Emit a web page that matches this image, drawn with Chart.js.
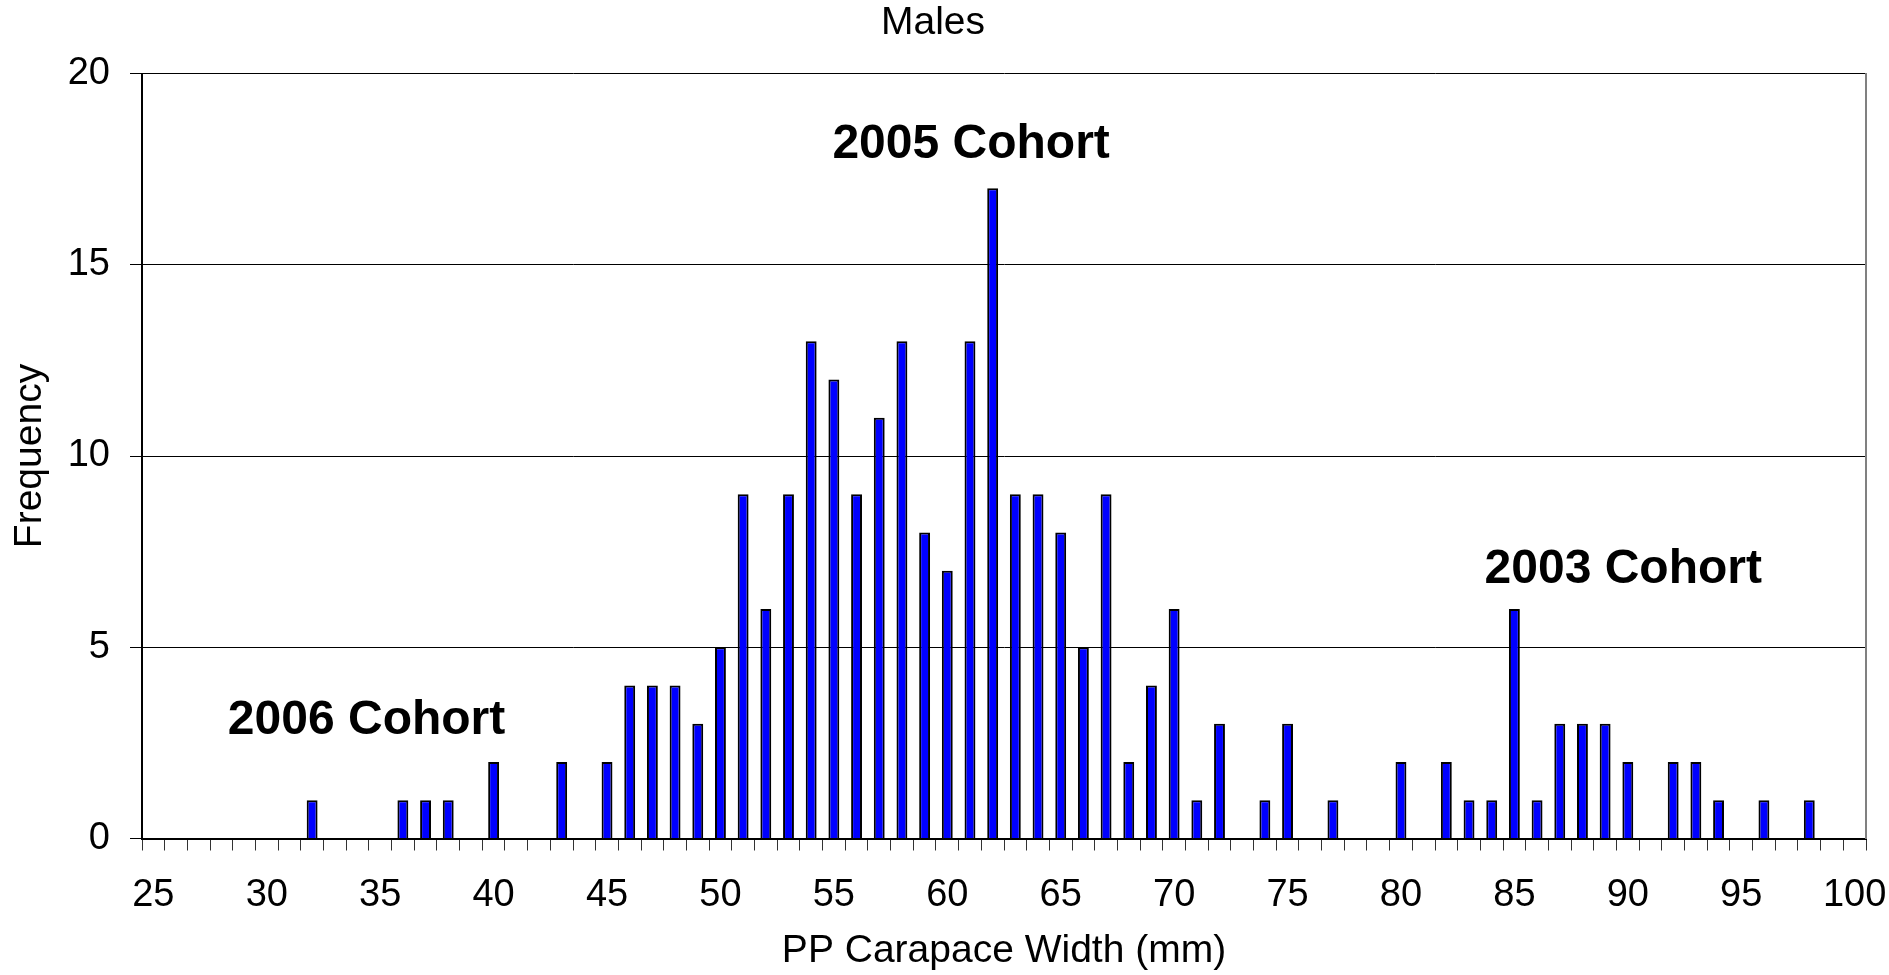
<!DOCTYPE html>
<html>
<head>
<meta charset="utf-8">
<title>Males</title>
<script src="https://cdn.jsdelivr.net/npm/chart.js@4.4.1/dist/chart.umd.min.js"></script>
<style>
  html, body { margin: 0; background: #fff; }
  #wrap { width: 1889px; height: 975px; }
</style>
</head>
<body>
<div id="wrap"><canvas id="c"></canvas></div>
<script>
/* Males: frequency of PP carapace width (mm), 1 mm bins, with cohort labels */
const widthsMm = [25, 26, 27, 28, 29, 30, 31, 32, 33, 34, 35, 36, 37, 38, 39, 40, 41, 42, 43, 44,
  45, 46, 47, 48, 49, 50, 51, 52, 53, 54, 55, 56, 57, 58, 59, 60, 61, 62, 63, 64,
  65, 66, 67, 68, 69, 70, 71, 72, 73, 74, 75, 76, 77, 78, 79, 80, 81, 82, 83, 84,
  85, 86, 87, 88, 89, 90, 91, 92, 93, 94, 95, 96, 97, 98, 99, 100];
const frequency = [0, 0, 0, 0, 0, 0, 0, 1, 0, 0, 0, 1, 1, 1, 0, 2, 0, 0, 2, 0,
  2, 4, 4, 4, 3, 5, 9, 6, 9, 13, 12, 9, 11, 13, 8, 7, 13, 17, 9, 9,
  8, 5, 9, 2, 4, 6, 1, 3, 0, 1, 3, 0, 1, 0, 0, 2, 0, 2, 1, 1,
  6, 1, 3, 3, 3, 2, 0, 2, 2, 1, 0, 1, 0, 1, 0, 0];
const xTickLabels = [25, 30, 35, 40, 45, 50, 55, 60, 65, 70, 75, 80, 85, 90, 95, 100];
const yTicks = [0, 5, 10, 15, 20];

// cohort labels: text, centre (mm) and baseline (frequency)
const cohortLabels = ["2006 Cohort", "2005 Cohort", "2003 Cohort"];
const cohortAtMm = [34.4, 61.05, 89.8];
const cohortAtFreq = [2.72, 17.8, 6.69];

const FONT = "'Liberation Sans', Arial, Helvetica, sans-serif";
Chart.defaults.font.family = FONT;
Chart.defaults.color = "#000";

const cohortText = {
  id: "cohortText",
  afterDatasetsDraw(chart) {
    const { ctx, scales: { x, y } } = chart;
    ctx.save();
    ctx.font = "bold 48px " + FONT;
    ctx.fillStyle = "#000";
    ctx.textAlign = "center";
    ctx.textBaseline = "alphabetic";
    cohortLabels.forEach((t, i) => {
      ctx.fillText(t, x.getPixelForValue(cohortAtMm[i] - widthsMm[0]), y.getPixelForValue(cohortAtFreq[i]));
    });
    ctx.restore();
  },
};

new Chart(document.getElementById("c"), {
  type: "bar",
  data: {
    labels: widthsMm,
    datasets: [{
      label: "Frequency",
      data: frequency,
      backgroundColor: "#0000ff",
      borderColor: "#000",
      borderWidth: 2,
      barPercentage: 0.48,
      categoryPercentage: 1,
    }],
  },
  options: {
    responsive: true, maintainAspectRatio: false, animation: false,
    layout: { padding: { left: 0, right: 23, top: 0, bottom: 0 } },
    plugins: {
      legend: { display: false },
      tooltip: { enabled: false },
      title: { display: true, text: "Males", color: "#000",
               font: { size: 39, weight: "normal" }, padding: { top: 0, bottom: 26.7 } },
    },
    scales: {
      x: {
        offset: true,
        grid: { offset: true, drawOnChartArea: false, drawTicks: true, tickLength: 12, color: "#333", lineWidth: 1 },
        border: { color: "#000", width: 2 },
        ticks: {
          autoSkip: false, maxRotation: 0, minRotation: 0, padding: 22,
          font: { size: 38 }, color: "#000",
          callback: (v, i) => xTickLabels.includes(widthsMm[i]) ? String(widthsMm[i]) : "",
        },
        title: { display: true, text: "PP Carapace Width (mm)", color: "#000",
                 font: { size: 39 }, padding: { top: 0, bottom: 0 } },
        afterFit: s => { s.height = 136.5; s.paddingLeft = 0; s.paddingRight = 0; },
      },
      y: {
        min: 0, max: 20,
        afterBuildTicks: s => { s.ticks = yTicks.map(v => ({ value: v })); },
        grid: { color: "#000", lineWidth: 1, tickLength: 12 },
        border: { color: "#000", width: 2 },
        ticks: { font: { size: 38 }, color: "#000", padding: 20 },
        title: { display: true, text: "Frequency", color: "#000",
                 font: { size: 39 }, padding: { top: 6.6, bottom: 0 } },
        afterFit: s => { s.width = 142; },
      },
      yRight: {
        position: "right", min: 0, max: 20,
        grid: { display: false },
        ticks: { display: false },
        border: { display: true, color: "#808080", width: 2 },
        afterFit: s => { s.width = 0; },
      },
    },
  },
  plugins: [cohortText],
});
</script>
</body>
</html>
